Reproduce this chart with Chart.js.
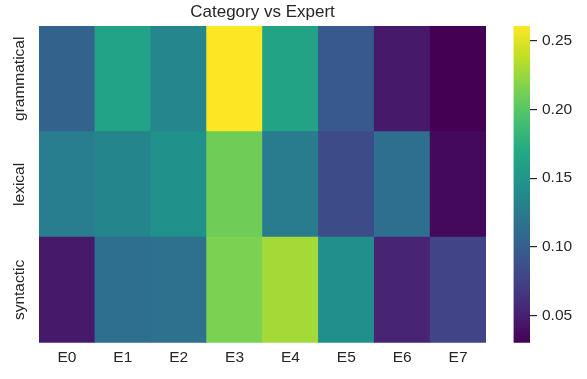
<!DOCTYPE html>
<html>
<head>
<meta charset="utf-8">
<script src="https://cdn.jsdelivr.net/npm/chart.js@4.4.1/dist/chart.umd.min.js"></script>
<style>
  html, body { margin: 0; padding: 0; background: #ffffff; }
  #wrap { position: relative; width: 587px; height: 379px; }
  #wrap canvas { position: absolute; left: 0; top: 0; }
</style>
</head>
<body>
<div id="wrap">
  <canvas id="heat" width="587" height="379"></canvas>
  <canvas id="cbar" width="587" height="379"></canvas>
</div>
<script>
// Experts along the x axis, categories down the y axis (top to bottom)
const experts = ['E0', 'E1', 'E2', 'E3', 'E4', 'E5', 'E6', 'E7'];
const categories = ['grammatical', 'lexical', 'syntactic'];

// Share of each category routed to each expert
const grammatical = [0.103, 0.163, 0.136, 0.261, 0.164, 0.094, 0.046, 0.030];
const lexical     = [0.127, 0.134, 0.146, 0.210, 0.126, 0.083, 0.113, 0.035];
const syntactic   = [0.046, 0.113, 0.116, 0.215, 0.229, 0.145, 0.053, 0.076];

// Colorbar tick values
const colorTicks = [0.05, 0.10, 0.15, 0.20, 0.25];

const rowValues = { grammatical, lexical, syntactic };
const allValues = [...grammatical, ...lexical, ...syntactic];
const vmin = Math.min(...allValues);
const vmax = Math.max(...allValues);

// Viridis colormap, sampled at 11 evenly spaced stops
const VIRIDIS = [
  [68, 1, 84], [72, 36, 117], [65, 68, 135], [53, 95, 141], [42, 120, 142],
  [33, 145, 140], [34, 168, 132], [68, 191, 112], [122, 209, 81], [189, 223, 38],
  [253, 231, 37]
];
function viridis(t) {
  t = Math.max(0, Math.min(1, t));
  const pos = t * (VIRIDIS.length - 1);
  const i = Math.min(Math.floor(pos), VIRIDIS.length - 2);
  const f = pos - i;
  const a = VIRIDIS[i], b = VIRIDIS[i + 1];
  const c = a.map((v, k) => Math.round(v + (b[k] - v) * f));
  return `rgb(${c[0]},${c[1]},${c[2]})`;
}
const norm = v => (v - vmin) / (vmax - vmin);

const FONT = "'Liberation Sans', Arial, Helvetica, sans-serif";
const TEXT = '#262626';

// Each category is one stacked row of unit-height cells; the bottom row is drawn first
const heatDatasets = categories.slice().reverse().map(name => ({
  label: name,
  data: experts.map(() => 1),
  backgroundColor: rowValues[name].map(v => viridis(norm(v))),
  borderWidth: 0,
  barPercentage: 1,
  categoryPercentage: 1
}));

// Rotated row labels placed at the centre of each row of the y scale
const rowLabels = {
  id: 'rowLabels',
  afterDraw(chart) {
    const ys = chart.scales.y;
    const ctx = chart.ctx;
    ctx.save();
    ctx.font = `15.5px ${FONT}`;
    ctx.fillStyle = TEXT;
    ctx.textAlign = 'center';
    ctx.textBaseline = 'middle';
    categories.forEach((name, i) => {
      const y = ys.getPixelForValue(categories.length - i - 0.5);
      ctx.save();
      ctx.translate(20, y);
      ctx.rotate(-Math.PI / 2);
      ctx.fillText(name, 0, 0);
      ctx.restore();
    });
    ctx.restore();
  }
};

new Chart(document.getElementById('heat'), {
  type: 'bar',
  data: { labels: experts, datasets: heatDatasets },
  options: {
    responsive: false,
    animation: false,
    devicePixelRatio: 1,
    layout: { padding: { left: 39, right: 101, top: 0, bottom: 0 } },
    plugins: {
      legend: { display: false },
      tooltip: { enabled: false },
      title: {
        display: true,
        text: 'Category vs Expert',
        color: TEXT,
        font: { family: FONT, size: 17, weight: 'normal', lineHeight: 1.2 },
        padding: { top: 2, bottom: 3.6 }
      }
    },
    scales: {
      x: {
        stacked: true,
        grid: { display: false, drawTicks: false },
        border: { display: false },
        ticks: { color: TEXT, font: { family: FONT, size: 15.5, lineHeight: 1.2 }, padding: 6 },
        afterFit(scale) { scale.height = 36.3; }
      },
      y: { stacked: true, min: 0, max: 3, display: false }
    }
  },
  plugins: [rowLabels]
});

// Colorbar: one floating bar spanning the colour range, filled with the colormap
new Chart(document.getElementById('cbar'), {
  type: 'bar',
  data: {
    labels: [''],
    datasets: [{
      data: [[vmin, vmax]],
      backgroundColor(context) {
        const chart = context.chart;
        const area = chart.chartArea;
        if (!area) return viridis(0.5);
        const ys = chart.scales.y;
        const g = chart.ctx.createLinearGradient(0, ys.getPixelForValue(vmin), 0, ys.getPixelForValue(vmax));
        VIRIDIS.forEach((c, i) => g.addColorStop(i / (VIRIDIS.length - 1), `rgb(${c[0]},${c[1]},${c[2]})`));
        return g;
      },
      borderWidth: 0,
      barPercentage: 1,
      categoryPercentage: 1
    }]
  },
  options: {
    responsive: false,
    animation: false,
    devicePixelRatio: 1,
    layout: { padding: { left: 513.5, right: 0, top: 26, bottom: 36.3 } },
    plugins: { legend: { display: false }, tooltip: { enabled: false } },
    scales: {
      x: { display: false },
      y: {
        position: 'right',
        min: vmin,
        max: vmax,
        grid: { display: true, drawOnChartArea: false, drawTicks: true, tickLength: 7, color: TEXT, lineWidth: 1.2 },
        border: { display: false },
        ticks: {
          color: TEXT,
          font: { family: FONT, size: 15.5 },
          padding: 5,
          callback: v => Number(v).toFixed(2)
        },
        afterBuildTicks(scale) { scale.ticks = colorTicks.map(v => ({ value: v })); },
        afterFit(scale) { scale.width = 587 - 530; }
      }
    }
  }
});
</script>
</body>
</html>
